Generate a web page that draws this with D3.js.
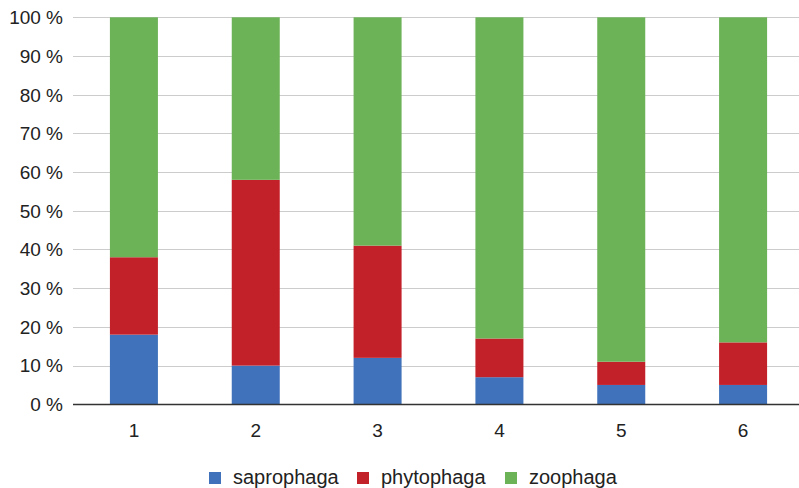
<!DOCTYPE html>
<html><head><meta charset="utf-8">
<script src="https://cdn.jsdelivr.net/npm/d3@7"></script>
<style>body{margin:0;background:#fff}svg{display:block}text{font-family:"Liberation Sans",Arial,sans-serif}</style>
</head><body><svg id="c" width="799" height="488"></svg>
<script>
const categories = ["1","2","3","4","5","6"];
const saprophaga = [18,10,12,7,5,5];
const phytophaga = [20,48,29,10,6,11];
const zoophaga = [62,42,59,83,89,84];
const seriesNames = ["saprophaga","phytophaga","zoophaga"];
const colors = ["#3f72ba","#c3212a","#6cb257"];
const yTicks = [0,10,20,30,40,50,60,70,80,90,100];

const svg = d3.select("#c");
const x = d3.scaleBand().domain(categories).range([73,804]).paddingInner(0.606).paddingOuter(0.303);
const y = d3.scaleLinear().domain([0,100]).range([404.3,17.3]);

const rows = categories.map((c,i)=>({cat:c, saprophaga:saprophaga[i], phytophaga:phytophaga[i], zoophaga:zoophaga[i]}));
const stacked = d3.stack().keys(seriesNames)(rows);

// gridlines
svg.append("g").selectAll("line").data(yTicks.filter(t=>t>0)).join("line")
  .attr("x1",73).attr("x2",799).attr("y1",d=>Math.round(y(d))+0.5).attr("y2",d=>Math.round(y(d))+0.5)
  .attr("stroke","#cccccc").attr("stroke-width",1);

// y labels
svg.append("g").selectAll("text").data(yTicks).join("text")
  .attr("x",63).attr("y",d=>y(d)).attr("dy","0.36em").attr("text-anchor","end")
  .attr("font-size",19).attr("fill","#222").text(d=>d+" %");

// bars
svg.append("g").selectAll("g").data(stacked).join("g").attr("fill",(d,i)=>colors[i])
  .selectAll("rect").data(d=>d).join("rect")
  .attr("x",d=>x(d.data.cat)).attr("width",x.bandwidth())
  .attr("y",d=>y(d[1])).attr("height",d=>y(d[0])-y(d[1]));

// axis line
svg.append("line").attr("x1",73).attr("x2",799).attr("y1",404.5).attr("y2",404.5)
  .attr("stroke","#333").attr("stroke-width",1.5);

// x labels
svg.append("g").selectAll("text").data(categories).join("text")
  .attr("x",d=>x(d)+x.bandwidth()/2).attr("y",437).attr("text-anchor","middle")
  .attr("font-size",19).attr("fill","#222").text(d=>d);

// legend
const legX = [209,357,505];
const leg = svg.append("g").selectAll("g").data(seriesNames).join("g")
  .attr("transform",(d,i)=>`translate(${legX[i]},0)`);
leg.append("rect").attr("x",0).attr("y",472).attr("width",12).attr("height",12).attr("fill",(d,i)=>colors[i]);
leg.append("text").attr("x",24).attr("y",484).attr("font-size",20).attr("fill","#222").text(d=>d);
</script></body></html>
